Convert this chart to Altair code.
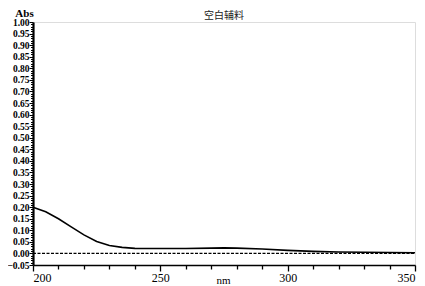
import altair as alt
import pandas as pd

nm = [200, 205, 210, 215, 220, 225, 230, 235, 240, 245, 250, 260, 270, 275, 280, 290, 300, 310, 320, 330, 340, 350]
absorb = [0.200, 0.180, 0.150, 0.115, 0.080, 0.052, 0.034, 0.026, 0.022, 0.021, 0.021, 0.021, 0.023, 0.024, 0.023, 0.019, 0.013, 0.009, 0.006, 0.005, 0.004, 0.003]
base_nm = [200, 350]
base_abs = [0.0, 0.0]

y_ticks = [round(-0.05 + 0.01 * i, 2) for i in range(106)]
x_ticks = list(range(200, 351, 10))

df = pd.DataFrame({"nm": nm, "abs": absorb})
dfb = pd.DataFrame({"nm": base_nm, "abs": base_abs})

FONT = "Liberation Serif"
Y_MAJOR = "round(datum.value*100) % 5 == 0"
X_MAJOR = "datum.value % 50 == 0"

xenc = alt.X("nm:Q", scale=alt.Scale(domain=[200, 350], nice=False, zero=False),
             axis=alt.Axis(title="nm", values=x_ticks, tickCount=len(x_ticks) + 5,
                           labelExpr=f"{X_MAJOR} ? datum.value : ''",
                           labelOverlap=False, labelFont=FONT, labelFontSize=12,
                           labelColor="black", labelPadding=1,
                           tickSize={"condition": {"test": X_MAJOR, "value": 6}, "value": 4},
                           tickColor="black", tickWidth=1.3,
                           domainColor="black", domainWidth=1.5, grid=False,
                           titleFont=FONT, titleFontSize=11, titleFontWeight="normal",
                           titleColor="black", titleY=9, titleX=190))
yenc = alt.Y("abs:Q", scale=alt.Scale(domain=[-0.05, 1.0], nice=False, zero=False),
             axis=alt.Axis(title="Abs", values=y_ticks, tickCount=len(y_ticks) + 5,
                           labelExpr=f"{Y_MAJOR} ? format(datum.value, '.2f') : ''",
                           labelOverlap=False, labelFont=FONT, labelFontSize=9.5,
                           labelFontWeight="bold", labelColor="black", labelPadding=0,
                           tickSize={"condition": {"test": Y_MAJOR, "value": 4}, "value": 2.5},
                           tickColor="black", tickWidth=1,
                           domainColor="black", domainWidth=2.2, grid=False,
                           titleFont=FONT, titleFontSize=11, titleFontWeight="bold",
                           titleColor="black", titleAngle=0, titleX=-9, titleY=-4,
                           titleAlign="center", titleBaseline="bottom"))

line = alt.Chart(df).mark_line(color="black", strokeWidth=1.6).encode(x=xenc, y=yenc)
base = alt.Chart(dfb).mark_line(color="black", strokeWidth=1.3, strokeDash=[3, 1.5]).encode(
    x="nm:Q", y="abs:Q")

chart = (base + line).properties(
    width=382, height=243,
    title=alt.TitleParams("空白辅料", font="Noto Sans CJK SC", fontSize=10,
                          fontWeight="normal", color="#222222", offset=0, dy=14,
                          frame="group", anchor="middle"),
    autosize=alt.AutoSizeParams(type="none"),
    padding={"left": 25, "top": 14, "right": 2, "bottom": 21},
).configure_view(stroke=None).configure(background="white")

chart.save("out.html", embed_options={"renderer": "svg", "actions": False})
